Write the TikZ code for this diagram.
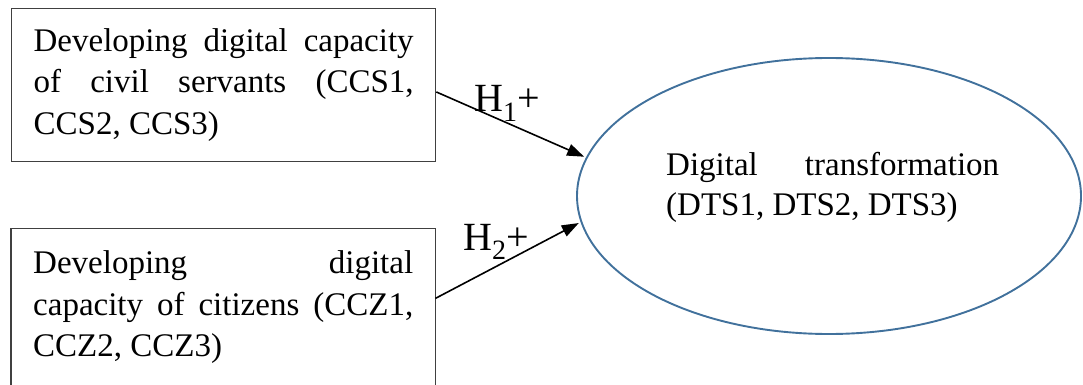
\documentclass[tikz,border=0pt]{standalone}
\usepackage{fontspec}
\setmainfont{Liberation Serif}
\usetikzlibrary{shapes.geometric,arrows.meta,calc}
\definecolor{ellblue}{HTML}{41719C}
\definecolor{boxgray}{HTML}{404040}
\hbadness=10000
\begin{document}
\begin{tikzpicture}[x=1pt,y=-1pt,
  boxtext/.style={text width=380pt, align=justify, inner xsep=22pt, anchor=base west, font=\fontsize{33}{41.5}\selectfont},
  boxline/.style={draw=boxgray, line width=1.3pt},
  hlabel/.style={font=\fontsize{40}{48}\selectfont, inner sep=0pt, anchor=base west},
  conn/.style={draw=black, line width=1.6pt, shorten >=2pt, -{Triangle[length=17pt,width=12pt]}}]
\useasboundingbox (0,0) rectangle (1083,385);
\coordinate (bot) at (0,387);
\node[boxtext, boxline, inner ysep=20pt] (b1) at (11,51.5)
  {Developing digital capacity\linebreak of civil servants (CCS1,\linebreak CCS2, CCS3)};
\node[boxtext, inner ysep=22pt] (b2) at (11,273.5)
  {Developing digital\linebreak capacity of citizens (CCZ1,\linebreak CCZ2, CCZ3)};
\draw[boxline] (b2.north west |- bot) -- (b2.north west) -- (b2.north east) -- (b2.north east |- bot);
\node[ellipse, draw=ellblue, line width=1.9pt, minimum width=504pt, minimum height=276pt, inner sep=0pt] (dt) at (829,196) {};
\node[font=\fontsize{33}{40}\selectfont, text width=333pt, align=justify, inner sep=0pt, anchor=base west] (dtt) at (666,175)
  {Digital transformation\linebreak (DTS1, DTS2, DTS3)};
\draw[conn] ([yshift=-84pt]b1.north east) -- (dt.171.6);
\draw[conn] ([yshift=-70pt]b2.north east) -- (dt.186.4);
\node[hlabel] (h1) at (474,112) {H\textsubscript{1}+};
\node[hlabel] (h2) at (463,250) {H\textsubscript{2}+};
\end{tikzpicture}
\end{document}
